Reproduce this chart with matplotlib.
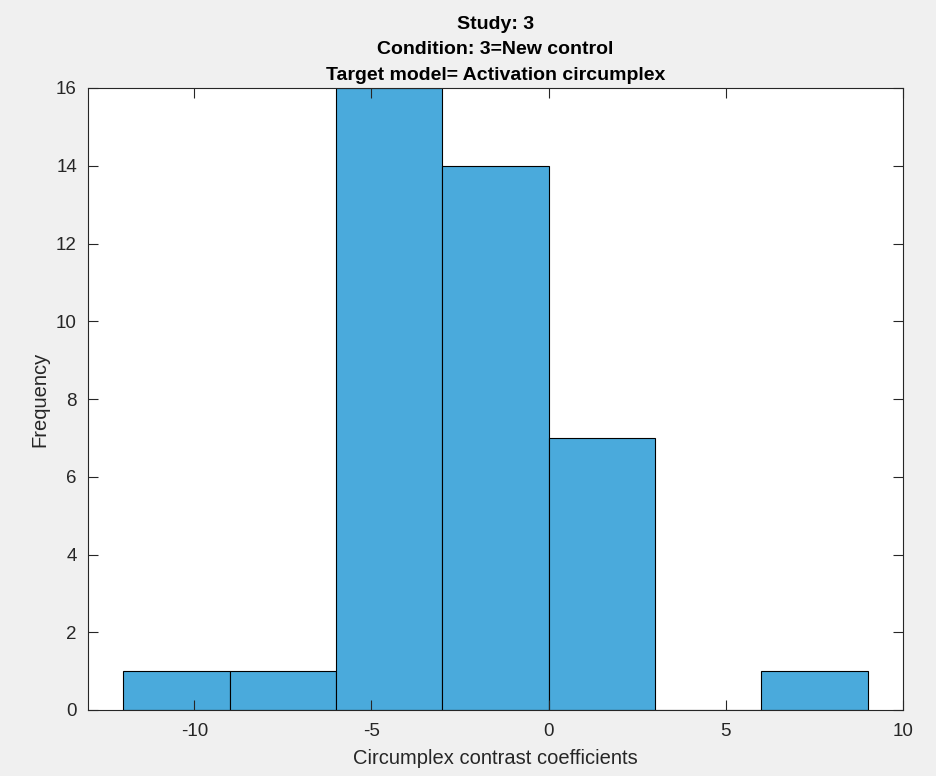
import matplotlib
matplotlib.use("Agg")
import matplotlib.pyplot as plt

# Histogram data (bin edges and counts)
binEdges = [-12, -9, -6, -3, 0, 3, 6, 9]
counts = [1, 1, 16, 14, 7, 0, 1]

xTicks = [-10, -5, 0, 5, 10]
yTicks = [0, 2, 4, 6, 8, 10, 12, 14, 16]

barColor = "#4aaadc"
axisColor = "#262626"
figBg = "#f0f0f0"

plt.rcParams["font.family"] = ["Liberation Sans", "DejaVu Sans"]
plt.rcParams["axes.unicode_minus"] = False

fig = plt.figure(figsize=(9.36, 7.76), dpi=100, facecolor=figBg)
ax = fig.add_axes([88 / 936, 1 - 710 / 776, (903 - 88) / 936, (710 - 88) / 776])

ax.hist(
    binEdges[:-1],
    bins=binEdges,
    weights=counts,
    color=barColor,
    edgecolor="black",
    linewidth=0.8,
)

ax.set_xlim(-13, 10)
ax.set_ylim(0, 16)
ax.set_xticks(xTicks)
ax.set_yticks(yTicks)
ax.tick_params(
    direction="in",
    top=True,
    right=True,
    length=7,
    width=0.8,
    colors=axisColor,
    labelsize=13.5,
    pad=9,
)
ax.tick_params(axis="y", pad=8)
for s in ax.spines.values():
    s.set_color(axisColor)
    s.set_linewidth(0.8)

ax.set_xlabel("Circumplex contrast coefficients", fontsize=14.5, color=axisColor, labelpad=7)
ax.set_ylabel("Frequency", fontsize=14.5, color=axisColor, labelpad=5)
ax.set_title(
    "Study: 3\nCondition: 3=New control\nTarget model= Activation circumplex",
    fontsize=14,
    fontweight="bold",
    linespacing=1.65,
    pad=6,
)

fig.savefig("out.png", dpi=100, facecolor=figBg)
